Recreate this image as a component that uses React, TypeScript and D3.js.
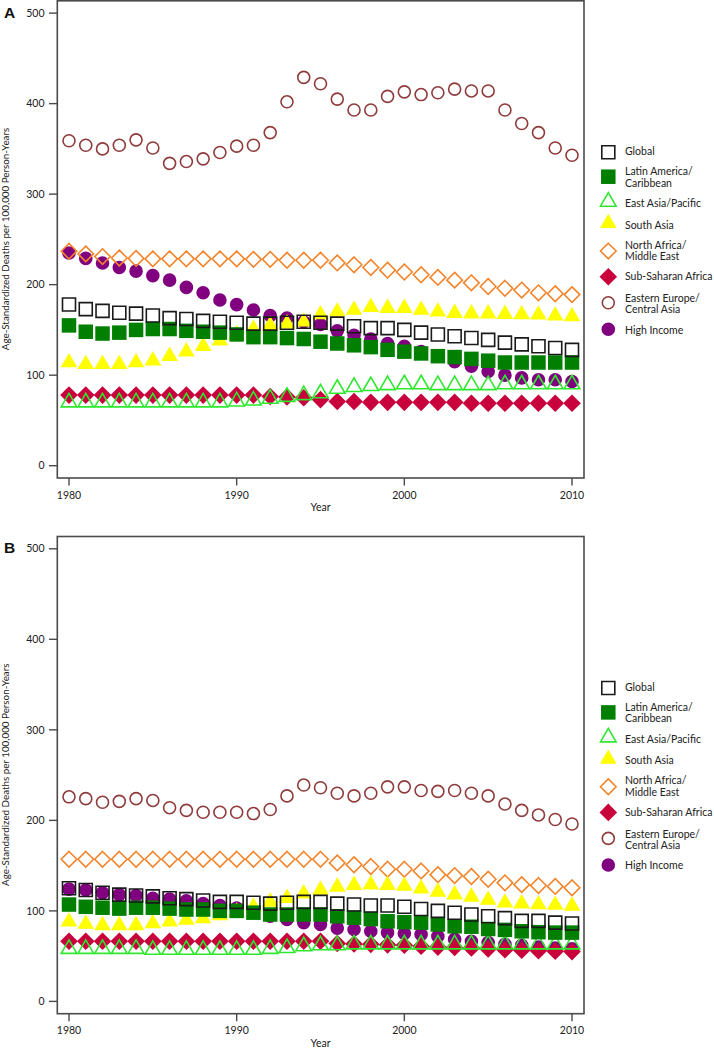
import React from "react";
import * as d3 from "d3";

const YEARS = d3.range(1980, 2011);

const REGIONS = [
  "Global",
  "Latin America/Caribbean",
  "East Asia/Pacific",
  "South Asia",
  "North Africa/Middle East",
  "Sub-Saharan Africa",
  "Eastern Europe/Central Asia",
  "High Income",
];

const LEGEND_LABELS = [
  ["Global"],
  ["Latin America/", "Caribbean"],
  ["East Asia/Pacific"],
  ["South Asia"],
  ["North Africa/", "Middle East"],
  ["Sub-Saharan Africa"],
  ["Eastern Europe/", "Central Asia"],
  ["High Income"],
];

const Y_TICKS = [0, 100, 200, 300, 400, 500];
const X_TICKS = [1980, 1990, 2000, 2010];

// Panel A values (1980-2010)
const globalA = [178, 173, 171, 169, 168, 166, 163, 162, 160, 159, 158, 157, 157, 158, 159, 158, 157, 154, 152, 152, 150, 147, 145, 143, 141, 139, 136, 134, 132, 130, 128];
const latamA = [155, 148, 146, 147, 150, 151, 151, 149, 148, 147, 145, 142, 142, 141, 140, 137, 135, 133, 131, 128, 126, 124, 121, 120, 118, 116, 114, 114, 114, 114, 114];
const eastAsiaA = [70, 70, 70, 70, 70, 70, 70, 70, 70, 70, 71, 72, 74, 76, 78, 80, 85, 87, 88, 89, 90, 90, 89, 89, 89, 89, 90, 90, 90, 90, 90];
const southAsiaA = [114, 112, 112, 112, 114, 116, 121, 126, 132, 138, 145, 151, 155, 157, 159, 167, 170, 172, 175, 174, 174, 172, 170, 168.5, 168, 168, 167.5, 167, 166.7, 165.6, 164.8];
const northAfricaA = [237, 234, 231, 229.5, 229, 228.5, 228.5, 228.5, 228.5, 228.5, 228.5, 228, 228, 227, 227, 227, 224, 222, 219, 216, 214, 211, 208, 205, 202, 198, 196, 194, 191, 190, 189];
const subSaharaA = [78, 78, 78, 78, 78, 78, 78, 78, 78, 78, 78, 78, 76.5, 76, 75, 73, 71, 71, 70, 70, 70, 70, 70, 70, 69, 69, 69, 69, 69, 69, 69];
const easternEuropeA = [359, 354, 350, 354, 360, 351, 334, 336, 339, 346, 353, 354, 368, 402, 429, 422, 405, 393, 393, 408, 413, 410, 412, 416, 414, 414, 393, 378, 368, 351, 343];
const highIncomeA = [235, 229, 224, 219, 215, 210, 205, 197, 191, 183, 178, 172, 166, 163, 159, 156, 149, 144, 140, 135, 132, 126, 121, 115, 110, 104, 100, 97, 95, 95, 93];

// Panel B values (1980-2010)
const globalB = [125, 123, 120, 118, 117, 116, 114, 113, 111.5, 110, 110, 109, 108, 109, 110, 110, 108, 107, 106, 106, 104.5, 102, 100, 98, 96, 94, 92, 89, 89, 87, 86];
const latamB = [107, 104.5, 103.5, 102.5, 103.5, 103.5, 102.5, 101.5, 101.5, 100, 100, 98, 96, 96, 96, 96, 94, 92.5, 91, 88.5, 87.5, 87, 85, 83, 82.5, 80, 79, 77.5, 76.5, 76, 76];
const eastAsiaB = [58, 58, 58, 58, 58, 57, 57, 57, 57, 57, 57, 57, 58, 59, 61, 62, 62, 63, 63, 63, 63, 63, 63, 63, 63, 63, 63, 63, 63, 63, 63];
const southAsiaB = [88, 85.5, 84, 84, 84, 86, 88, 90, 91.5, 95, 99, 104.5, 110, 114, 119, 123, 126.5, 128.5, 129, 128.5, 127.5, 124.5, 121, 118, 115.5, 112, 109, 108, 107, 106.5, 105.5];
const northAfricaB = [157, 157, 157, 157, 157, 157, 157, 157, 157, 157, 157, 157, 157, 157, 157, 157, 153, 151, 149, 146, 146, 144, 140, 139, 138, 135, 131, 129, 128, 127, 125.5];
const subSaharaB = [66.5, 66.5, 66.5, 66.5, 66.5, 66.5, 66.5, 66.5, 66.5, 66.5, 66.5, 66.5, 66.5, 66.5, 66.5, 66.5, 64, 63.5, 63, 62.5, 62, 61, 60, 59.5, 59, 58, 57, 56.5, 56, 55.5, 55];
const easternEuropeB = [226, 224, 220, 221, 224, 222, 214, 211, 209, 209, 209, 207.5, 212, 227, 239, 236, 230, 227, 230, 237, 237, 233, 232, 233, 230, 227, 218, 211, 206, 201, 196];
const highIncomeB = [124, 123, 120, 118, 117, 114, 113, 111, 108, 106, 103, 100, 94, 90.5, 87, 85, 81, 79.5, 77.5, 76, 75, 74, 72, 68.5, 66.5, 65, 63, 62, 60, 59, 58];

const PANEL_A = [globalA, latamA, eastAsiaA, southAsiaA, northAfricaA, subSaharaA, easternEuropeA, highIncomeA];
const PANEL_B = [globalB, latamB, eastAsiaB, southAsiaB, northAfricaB, subSaharaB, easternEuropeB, highIncomeB];

type Style = { shape: string; fill: string; stroke: string };
const STYLES: Style[] = [
  { shape: "square", fill: "none", stroke: "#1a1a1a" },
  { shape: "square", fill: "#007f00", stroke: "none" },
  { shape: "triangle", fill: "none", stroke: "#2ee82e" },
  { shape: "triangle", fill: "#ffff00", stroke: "none" },
  { shape: "diamond", fill: "none", stroke: "#f4842a" },
  { shape: "diamond", fill: "#c8003c", stroke: "none" },
  { shape: "circle", fill: "none", stroke: "#8f3b3b" },
  { shape: "circle", fill: "#800080", stroke: "none" },
];

function markerPath(shape: string, filled: boolean): string {
  if (shape === "square") {
    const s = filled ? 14.5 : 13;
    return d3.symbol(d3.symbolSquare, s * s)()!;
  }
  if (shape === "triangle") {
    const r = filled ? 9.6 : 9.0;
    const yy = r / 2;
    return d3.symbol(d3.symbolTriangle, 3 * Math.sqrt(3) * yy * yy)()!;
  }
  if (shape === "circle") {
    const r = filled ? 6.8 : 6.0;
    return d3.symbol(d3.symbolCircle, Math.PI * r * r)()!;
  }
  const h = filled ? 8.8 : 7.8;
  const p = d3.path();
  p.moveTo(0, -h);
  p.lineTo(h, 0);
  p.lineTo(0, h);
  p.lineTo(-h, 0);
  p.closePath();
  return p.toString();
}

const FONT = "Lato, 'Open Sans', sans-serif";
const AXIS_COLOR = "#4a4a4a";
const TEXT_COLOR = "#222";

const LEGEND_SYMBOL_Y = [152.3, 176.7, 201.7, 223.3, 251, 276.7, 302.7, 329.3];
const LEGEND_TEXT_Y = [151.7, 171.7, 203.3, 225, 245, 276.7, 298.3, 330];

function Panel({ top, data, label }: { top: number; data: number[][]; label: string }) {
  const x = d3.scaleLinear().domain([1980, 2010]).range([69, 572]);
  const y = d3.scaleLinear().domain([0, 500]).range([top + 465.7, top + 13.1]);
  const boxL = 57.3, boxR = 584, boxT = top + 0.8, boxB = top + 478;
  const order = [7, 6, 5, 4, 3, 2, 1, 0];
  return (
    <g>
      <text x={4} y={top + 17.5} fontFamily="'Liberation Sans', Arial, sans-serif" fontWeight="bold" fontSize={15.5} fill="#111">
        {label}
      </text>
      {order.map((si) => {
        const st = STYLES[si];
        const filled = st.fill !== "none";
        const d = markerPath(st.shape, filled);
        return (
          <g key={si}>
            {data[si].map((v, i) => (
              <path
                key={i}
                d={d}
                transform={`translate(${x(YEARS[i])},${y(v)})`}
                fill={st.fill}
                stroke={st.stroke}
                strokeWidth={filled ? 0 : 1.6}
              />
            ))}
          </g>
        );
      })}
      <rect x={boxL} y={boxT} width={boxR - boxL} height={boxB - boxT} fill="none" stroke={AXIS_COLOR} strokeWidth={1.6} />
      {Y_TICKS.map((t) => (
        <g key={t}>
          <line x1={49} x2={boxL} y1={y(t)} y2={y(t)} stroke={AXIS_COLOR} strokeWidth={1.4} />
          <text x={44.5} y={y(t)} dy="0.35em" textAnchor="end" fontFamily={FONT} fontSize={10.5} fill={TEXT_COLOR}>
            {t}
          </text>
        </g>
      ))}
      {X_TICKS.map((t) => (
        <g key={t}>
          <line x1={x(t)} x2={x(t)} y1={boxB} y2={boxB + 7.5} stroke={AXIS_COLOR} strokeWidth={1.4} />
          <text x={x(t)} y={top + 495} dy="0.35em" textAnchor="middle" fontFamily={FONT} fontSize={10.5} fill={TEXT_COLOR}>
            {t}
          </text>
        </g>
      ))}
      <text x={320.5} y={top + 507.8} dy="0.35em" textAnchor="middle" fontFamily={FONT} fontSize={10.5} fill={TEXT_COLOR}>
        Year
      </text>
      <text
        transform={`translate(5.5,${top + 239}) rotate(-90)`}
        dy="0.35em"
        textAnchor="middle"
        fontFamily={FONT}
        fontSize={9.8}
        fill={TEXT_COLOR}
      >
        Age-Standardized Deaths per 100,000 Person-Years
      </text>
      {STYLES.map((st, i) => {
        const filled = st.fill !== "none";
        return (
          <g key={REGIONS[i]}>
            <path
              d={markerPath(st.shape, filled)}
              transform={`translate(608.3,${top + LEGEND_SYMBOL_Y[i]})`}
              fill={st.fill}
              stroke={st.stroke}
              strokeWidth={filled ? 0 : 1.6}
            />
            {LEGEND_LABELS[i].map((ln, k) => (
              <text
                key={k}
                x={625}
                y={top + LEGEND_TEXT_Y[i] + k * 11.3}
                dy="0.35em"
                fontFamily={FONT}
                fontSize={10.5}
                fill={TEXT_COLOR}
              >
                {ln}
              </text>
            ))}
          </g>
        );
      })}
    </g>
  );
}

export default function App() {
  return (
    <svg
      width={714}
      height={1048}
      viewBox="0 0 714 1048"
      style={{ position: "absolute", left: 0, top: 0, background: "#fff" }}
    >
      <rect x={0} y={0} width={714} height={1048} fill="#fff" />
      <Panel top={0} data={PANEL_A} label="A" />
      <Panel top={535.7} data={PANEL_B} label="B" />
    </svg>
  );
}
